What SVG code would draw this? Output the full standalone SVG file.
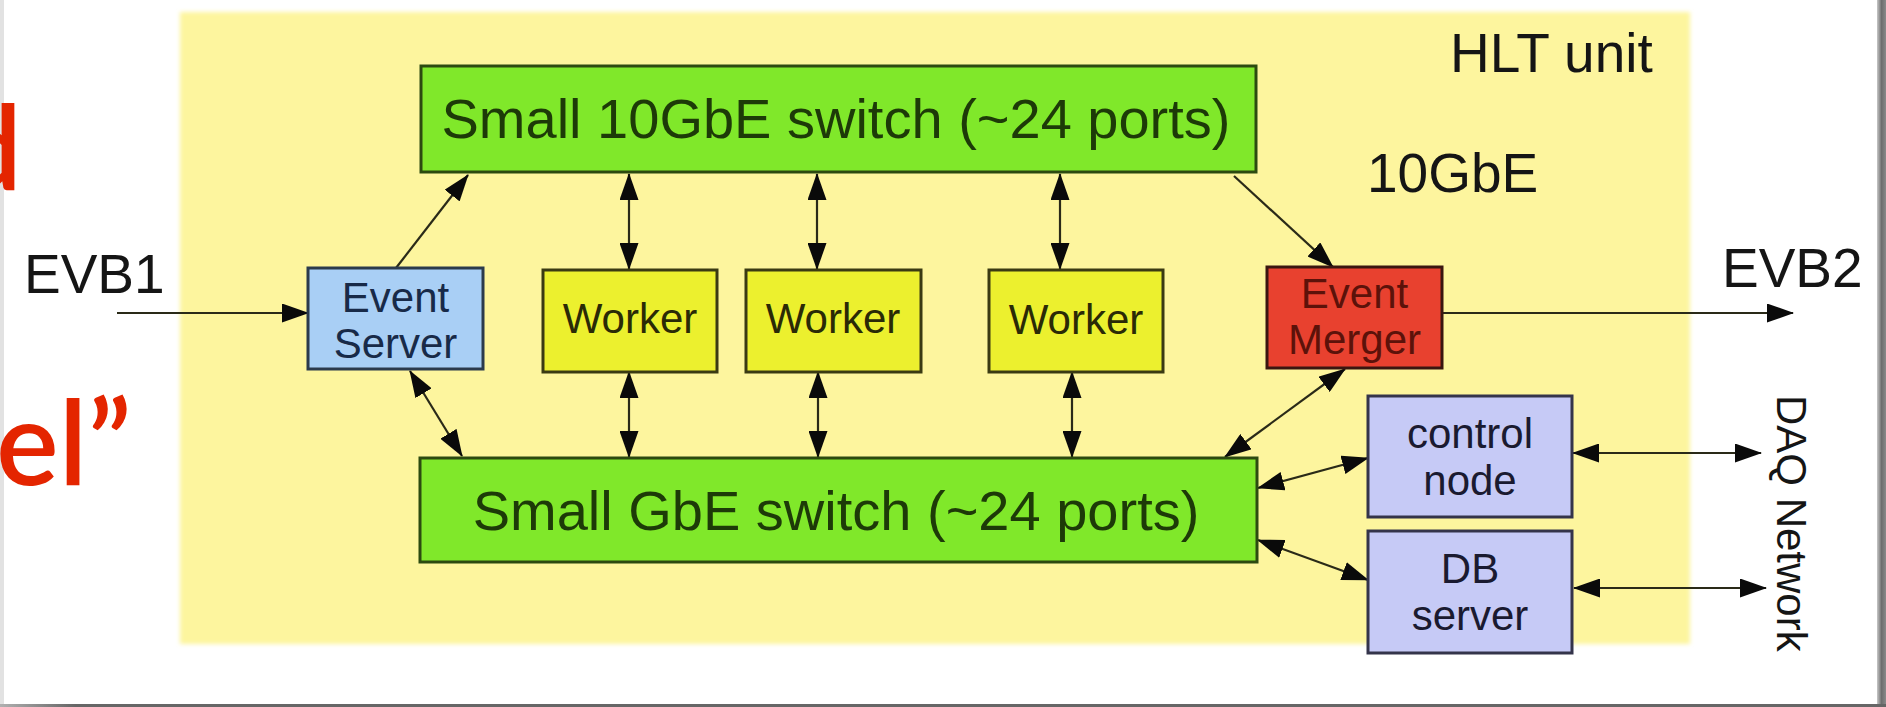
<svg xmlns="http://www.w3.org/2000/svg" width="1886" height="707" viewBox="0 0 1886 707">
  <defs>
    <style>
      .lbl { font-family: "Liberation Sans", Arial, Helvetica, sans-serif; fill: #151515; }
      .big { font-size: 55px; }
      .sw { font-size: 56px; fill: #1d3a08; text-anchor: middle; }
      .nd { font-size: 42px; text-anchor: middle; }
      .title { font-family: Lato, "Open Sans", sans-serif; font-size: 118px; font-weight: 600; fill: #e42500; }
      .switch rect { fill: #80e82a; stroke: #2c4a10; stroke-width: 3; }
      .worker rect { fill: #ecf02e; stroke: #3a3a12; stroke-width: 3; }
      .worker text { fill: #2a2a06; }
      .srv rect { fill: #a9cff5; stroke: #2b3a4c; stroke-width: 3; }
      .srv text { fill: #182a48; }
      .merger rect { fill: #e8412f; stroke: #3a1610; stroke-width: 3; }
      .merger text { fill: #5c120a; }
      .aux rect { fill: #c6caf6; stroke: #34344a; stroke-width: 3; }
      .aux text { fill: #1a1a30; }
      .conn line { stroke: #2a2a18; stroke-width: 2.2; fill: none; }
      .one { marker-end: url(#head); }
      .two { marker-start: url(#head); marker-end: url(#head); }
    </style>
    <marker id="head" viewBox="0 0 27 19" refX="26" refY="9.5" markerWidth="27" markerHeight="19" markerUnits="userSpaceOnUse" orient="auto-start-reverse">
      <path d="M0,0 L27,9.5 L0,19 Z" fill="#0a0a0a"/>
    </marker>
    <filter id="soft" x="-2%" y="-2%" width="104%" height="104%">
      <feGaussianBlur stdDeviation="2"/>
    </filter>
    <linearGradient id="rshade" x1="0" y1="0" x2="1" y2="0">
      <stop offset="0" stop-color="#c8c8c8"/>
      <stop offset="0.5" stop-color="#6e6e6e"/>
      <stop offset="1" stop-color="#8a8a8a"/>
    </linearGradient>
    <linearGradient id="bshade" x1="0" y1="0" x2="1" y2="0">
      <stop offset="0" stop-color="#b0b0b0"/>
      <stop offset="0.04" stop-color="#666666"/>
      <stop offset="1" stop-color="#666666"/>
    </linearGradient>
  </defs>

  <!-- slide page and its frame -->
  <rect x="0" y="0" width="1886" height="707" fill="#ffffff"/>
  <rect x="0" y="0" width="4" height="707" fill="#e2e2e2"/>
  <rect x="1877" y="0" width="9" height="707" fill="url(#rshade)"/>
  <rect x="0" y="704" width="1886" height="3" fill="url(#bshade)"/>

  <!-- slide title, running off the left edge of the page -->
  <text class="title" x="22" y="190" text-anchor="end">d</text>
  <text class="title" x="-4" y="485">el”</text>

  <!-- HLT unit panel -->
  <rect x="180" y="12" width="1510" height="632" fill="#fdf59e" filter="url(#soft)"/>

  <!-- free labels -->
  <text class="lbl big" x="1450" y="72">HLT unit</text>
  <text class="lbl big" x="1367" y="192">10GbE</text>
  <text class="lbl big" x="24" y="293">EVB1</text>
  <text class="lbl big" x="1722" y="287">EVB2</text>
  <text class="lbl" font-size="42" transform="translate(1777,395) rotate(90)">DAQ Network</text>

  <!-- connectors -->
  <g id="connectors" class="conn">
    <line class="one" x1="117" y1="313" x2="308" y2="313"/>
    <line class="one" x1="396" y1="268" x2="468" y2="175"/>
    <line class="two" x1="629" y1="174" x2="629" y2="269"/>
    <line class="two" x1="817" y1="174" x2="817" y2="269"/>
    <line class="two" x1="1060" y1="174" x2="1060" y2="269"/>
    <line class="two" x1="629" y1="372" x2="629" y2="457"/>
    <line class="two" x1="818" y1="372" x2="818" y2="457"/>
    <line class="two" x1="1072" y1="372" x2="1072" y2="457"/>
    <line class="two" x1="410" y1="371" x2="462" y2="456"/>
    <line class="one" x1="1234" y1="176" x2="1333" y2="267"/>
    <line class="two" x1="1345" y1="369" x2="1225" y2="457"/>
    <line class="one" x1="1442" y1="313" x2="1793" y2="313"/>
    <line class="two" x1="1258" y1="488" x2="1368" y2="458"/>
    <line class="two" x1="1258" y1="540" x2="1368" y2="580"/>
    <line class="two" x1="1573" y1="453" x2="1761" y2="453"/>
    <line class="two" x1="1574" y1="588" x2="1766" y2="588"/>
  </g>

  <!-- nodes -->
  <g id="switch-10gbe" class="switch">
    <rect x="421" y="66" width="835" height="106"/>
    <text class="lbl sw" x="836" y="138">Small 10GbE switch (~24 ports)</text>
  </g>
  <g id="switch-gbe" class="switch">
    <rect x="420" y="458" width="837" height="104"/>
    <text class="lbl sw" x="836" y="530" font-size="57">Small GbE switch (~24 ports)</text>
  </g>
  <g id="event-server" class="srv">
    <rect x="308" y="268" width="175" height="101"/>
    <text class="lbl nd" x="395.5" y="312">Event</text>
    <text class="lbl nd" x="395.5" y="358">Server</text>
  </g>
  <g id="worker-1" class="worker">
    <rect x="543" y="270" width="174" height="102"/>
    <text class="lbl nd" x="630" y="333">Worker</text>
  </g>
  <g id="worker-2" class="worker">
    <rect x="746" y="270" width="175" height="102"/>
    <text class="lbl nd" x="833" y="333">Worker</text>
  </g>
  <g id="worker-3" class="worker">
    <rect x="989" y="270" width="174" height="102"/>
    <text class="lbl nd" x="1076" y="334">Worker</text>
  </g>
  <g id="event-merger" class="merger">
    <rect x="1267" y="267" width="175" height="101"/>
    <text class="lbl nd" x="1354.5" y="308">Event</text>
    <text class="lbl nd" x="1354.5" y="354">Merger</text>
  </g>
  <g id="control-node" class="aux">
    <rect x="1368" y="396" width="204" height="121"/>
    <text class="lbl nd" x="1470" y="448">control</text>
    <text class="lbl nd" x="1470" y="495">node</text>
  </g>
  <g id="db-server" class="aux">
    <rect x="1368" y="531" width="204" height="122"/>
    <text class="lbl nd" x="1470" y="583">DB</text>
    <text class="lbl nd" x="1470" y="630">server</text>
  </g>
</svg>
